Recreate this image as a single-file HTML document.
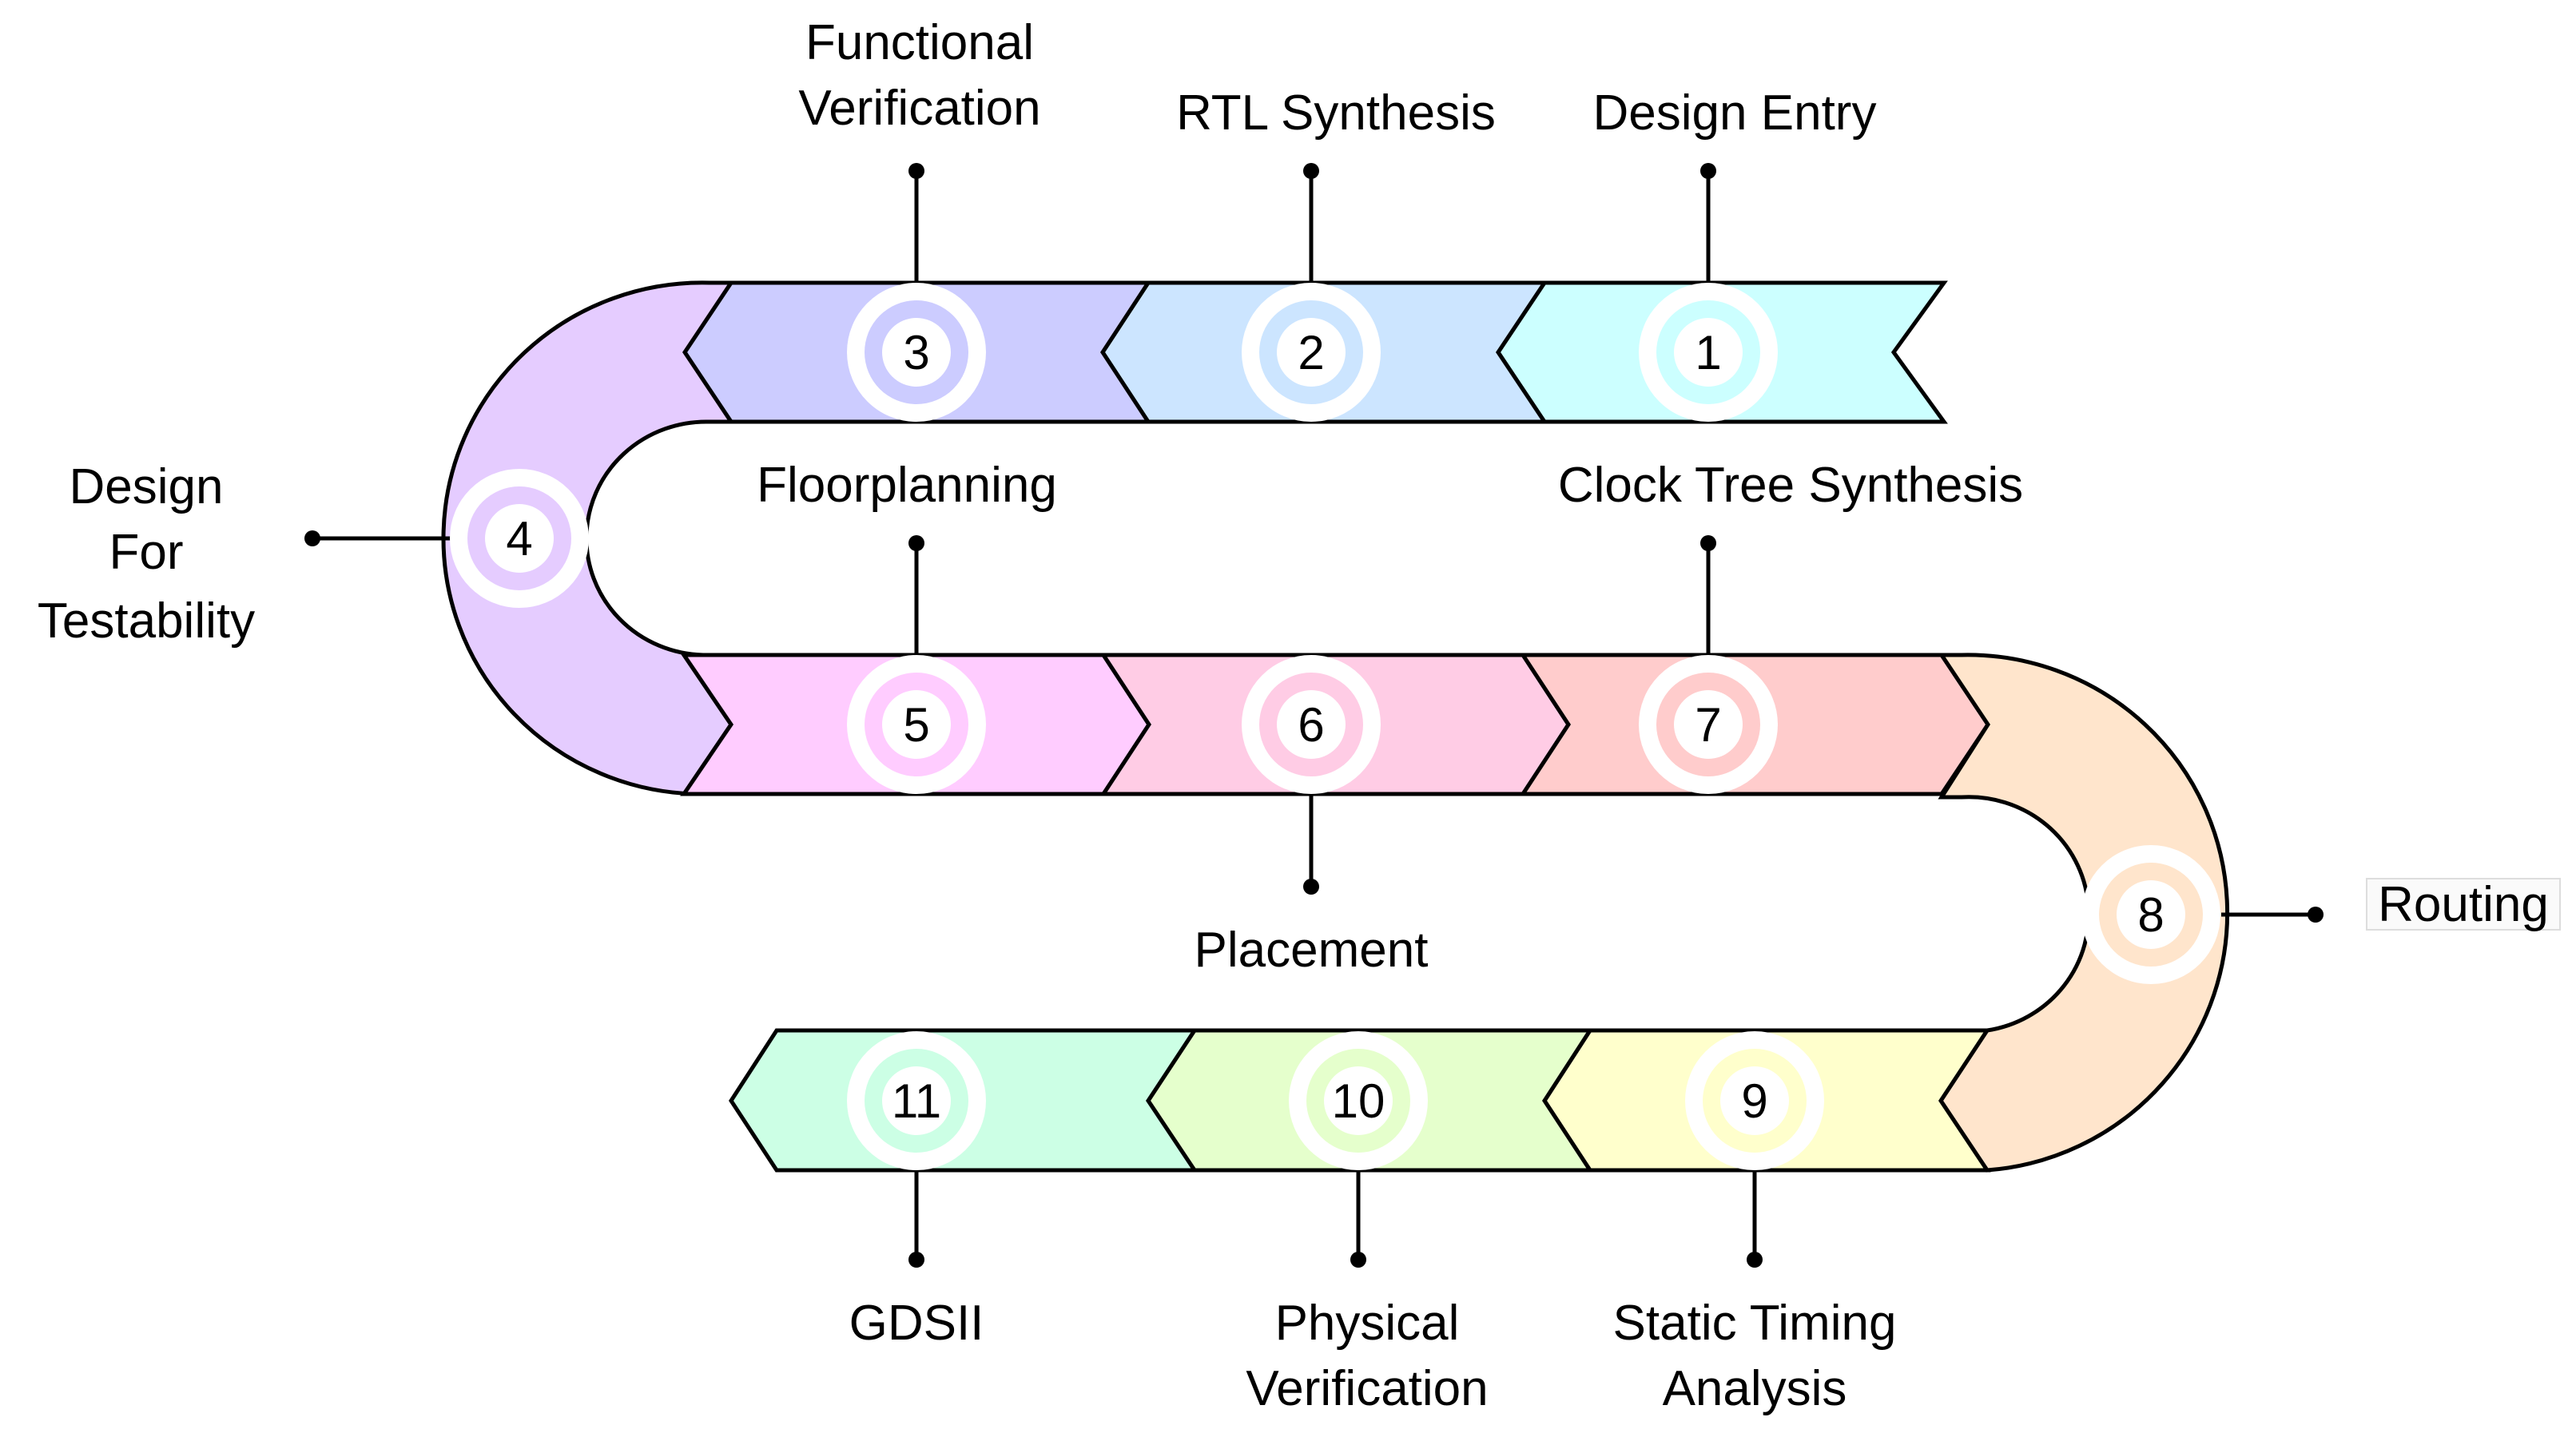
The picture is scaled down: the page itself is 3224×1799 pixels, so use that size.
<!DOCTYPE html>
<html><head><meta charset="utf-8"><style>html,body{margin:0;padding:0;background:#fff}svg{display:block}</style></head>
<body>
<svg width="3224" height="1799" viewBox="0 0 3224 1799" xmlns="http://www.w3.org/2000/svg" font-family="Liberation Sans, Arial, sans-serif">
<g stroke="#000" stroke-width="5" stroke-linejoin="miter">
<path d="M1933 354 L2433 354 L2370 441 L2433 528 L1933 528 L1875 441 Z" fill="#ccffff"/>
<path d="M1437 354 L1933 354 L1875 441 L1933 528 L1437 528 L1380 441 Z" fill="#cce5ff"/>
<path d="M915 354 L1437 354 L1380 441 L1437 528 L915 528 L857 441 Z" fill="#ccccff"/>
<path d="M915 354 L888 354 A324 320 0 0 0 870 994 L856 994 L915 907 L856 820 L880 820 A150 146 0 0 1 888 528 L915 528 L857 441 Z" fill="#e5ccff"/>
<path d="M856 820 L1381 820 L1438 907 L1381 994 L856 994 L915 907 Z" fill="#ffccff"/>
<path d="M1381 820 L1906 820 L1963 907 L1906 994 L1381 994 L1438 907 Z" fill="#ffcce5"/>
<path d="M1906 820 L2430 820 L2488 907 L2430 994 L1906 994 L1963 907 Z" fill="#ffcccc"/>
<path d="M2430 820 L2455 820 A325 323 0 0 1 2487 1465 L2429 1378 L2487 1290 A150 147 0 0 0 2455 998 L2430 998 L2488 907 Z" fill="#ffe5cc"/>
<path d="M1990 1290 L2487 1290 L2429 1378 L2487 1465 L1990 1465 L1933 1378 Z" fill="#ffffcc"/>
<path d="M1495 1290 L1990 1290 L1933 1378 L1990 1465 L1495 1465 L1437 1378 Z" fill="#e5ffcc"/>
<path d="M972 1290 L1495 1290 L1437 1378 L1495 1465 L972 1465 L915 1378 Z" fill="#ccffe5"/>
<!-- connectors -->
<path d="M1147 214 V354 M1641 214 V354 M2138 214 V354 M1147 680 V820 M2138 680 V820 M1641 994 V1110 M391 674 H564 M2780 1145 H2898 M1147 1465 V1577 M1700 1465 V1577 M2196 1465 V1577" fill="none"/>
</g>
<g fill="#000">
<circle cx="1147" cy="214" r="10"/><circle cx="1641" cy="214" r="10"/><circle cx="2138" cy="214" r="10"/>
<circle cx="1147" cy="680" r="10"/><circle cx="2138" cy="680" r="10"/><circle cx="1641" cy="1110" r="10"/>
<circle cx="391" cy="674" r="10"/><circle cx="2898" cy="1145" r="10"/>
<circle cx="1147" cy="1577" r="10"/><circle cx="1700" cy="1577" r="10"/><circle cx="2196" cy="1577" r="10"/>
</g>
<!-- number badges -->
<g>
<g transform="translate(2138,441)"><circle r="87" fill="#fff"/><circle r="65" fill="#ccffff"/><circle r="43" fill="#fff"/><text y="21" text-anchor="middle" font-size="60">1</text></g>
<g transform="translate(1641,441)"><circle r="87" fill="#fff"/><circle r="65" fill="#cce5ff"/><circle r="43" fill="#fff"/><text y="21" text-anchor="middle" font-size="60">2</text></g>
<g transform="translate(1147,441)"><circle r="87" fill="#fff"/><circle r="65" fill="#ccccff"/><circle r="43" fill="#fff"/><text y="21" text-anchor="middle" font-size="60">3</text></g>
<g transform="translate(650,674)"><circle r="87" fill="#fff"/><circle r="65" fill="#e5ccff"/><circle r="43" fill="#fff"/><text y="21" text-anchor="middle" font-size="60">4</text></g>
<g transform="translate(1147,907)"><circle r="87" fill="#fff"/><circle r="65" fill="#ffccff"/><circle r="43" fill="#fff"/><text y="21" text-anchor="middle" font-size="60">5</text></g>
<g transform="translate(1641,907)"><circle r="87" fill="#fff"/><circle r="65" fill="#ffcce5"/><circle r="43" fill="#fff"/><text y="21" text-anchor="middle" font-size="60">6</text></g>
<g transform="translate(2138,907)"><circle r="87" fill="#fff"/><circle r="65" fill="#ffcccc"/><circle r="43" fill="#fff"/><text y="21" text-anchor="middle" font-size="60">7</text></g>
<g transform="translate(2692,1145)"><circle r="87" fill="#fff"/><circle r="65" fill="#ffe5cc"/><circle r="43" fill="#fff"/><text y="21" text-anchor="middle" font-size="60">8</text></g>
<g transform="translate(2196,1378)"><circle r="87" fill="#fff"/><circle r="65" fill="#ffffcc"/><circle r="43" fill="#fff"/><text y="21" text-anchor="middle" font-size="60">9</text></g>
<g transform="translate(1700,1378)"><circle r="87" fill="#fff"/><circle r="65" fill="#e5ffcc"/><circle r="43" fill="#fff"/><text y="21" text-anchor="middle" font-size="60">10</text></g>
<g transform="translate(1147,1378)"><circle r="87" fill="#fff"/><circle r="65" fill="#ccffe5"/><circle r="43" fill="#fff"/><text y="21" text-anchor="middle" font-size="60">11</text></g>
</g>
<rect x="2962" y="1100" width="242" height="64" fill="#fafafa" stroke="#ddd" stroke-width="2"/>
<g font-size="62" text-anchor="middle" fill="#000">
<text x="1151" y="74">Functional</text>
<text x="1151" y="156">Verification</text>
<text x="1672" y="162">RTL Synthesis</text>
<text x="2171" y="162">Design Entry</text>
<text x="183" y="630">Design</text>
<text x="183" y="712">For</text>
<text x="183" y="798">Testability</text>
<text x="1135" y="628">Floorplanning</text>
<text x="2241" y="628">Clock Tree Synthesis</text>
<text x="1641" y="1210">Placement</text>
<text x="3083" y="1153">Routing</text>
<text x="1147" y="1677">GDSII</text>
<text x="1711" y="1677">Physical</text>
<text x="1711" y="1759">Verification</text>
<text x="2196" y="1677">Static Timing</text>
<text x="2196" y="1759">Analysis</text>
</g>
</svg>
</body></html>
